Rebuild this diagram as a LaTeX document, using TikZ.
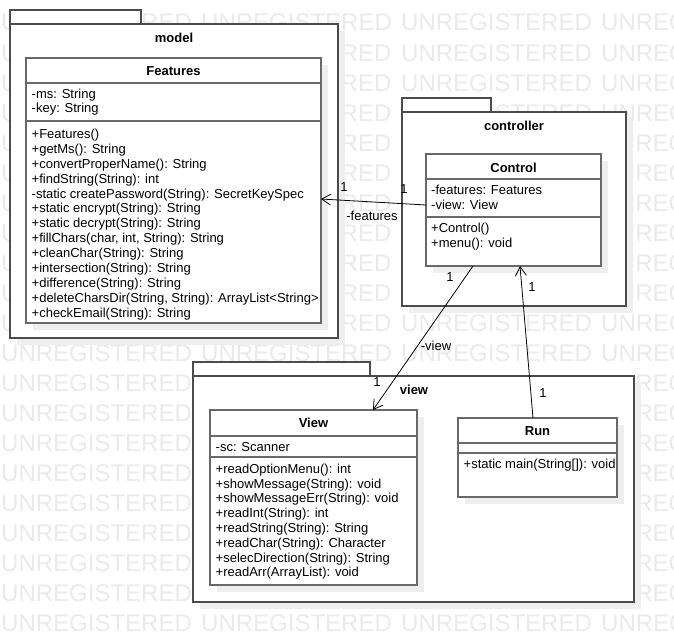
\documentclass[tikz,border=0pt]{standalone}
\usepackage{fontspec}
\setmainfont{Liberation Sans}
\usetikzlibrary{arrows.meta,calc}
\definecolor{wm}{RGB}{234,234,234}
\definecolor{shd}{RGB}{238,238,238}
\definecolor{clsline}{RGB}{105,105,105}
\definecolor{pkgline}{RGB}{75,75,75}
\tikzset{
  txt/.style={font=\fontsize{13}{15}\selectfont, inner sep=0pt, anchor=base west, text=black},
  hdr/.style={font=\fontsize{13}{15}\selectfont\bfseries, inner sep=0pt, anchor=base, text=black},
  wmtxt/.style={font=\fontsize{24}{24}\selectfont, inner sep=0pt, anchor=base west, text=wm},
  wmend/.style={font=\fontsize{24}{24}\selectfont, inner sep=0pt, anchor=base east, text=wm},
  pkg/.style={draw=pkgline, line width=1.3pt, fill=white, inner sep=0pt, outer sep=0pt, anchor=north west},
  cls/.style={draw=clsline, line width=1.5pt, fill=white, inner sep=0pt, outer sep=0pt, anchor=north west},
  sepline/.style={draw=clsline, line width=1.5pt},
  assoc/.style={draw=black, line width=0.8pt, -{Straight Barb[length=9pt,width=11pt]}},
  mult/.style={font=\fontsize{13}{15}\selectfont, inner sep=0pt, text=black},
}
\newcommand\linesat[5]{%
  \foreach \itm [count=\i] in {#5} {\node[txt] (#1-\i) at (#2, {#3+(\i-1)*#4}) {\itm};}}
\begin{document}
\begin{tikzpicture}[x=1pt,y=-1pt]
\useasboundingbox (0,0) rectangle (674,642);
\fill[white] (0,0) rectangle (674,642);
% watermark (only the parts that show)
\foreach \r in {0,11,20} {
  \foreach \c in {0,...,3} {
    \node[wmtxt] (wm-\r-\c) at ({1+200*\c}, {31+30*\r}) {UNREGISTERED};
  }
}
\foreach \r in {1,2,3,10} {
  \node[wmtxt] (wm-\r-0) at (1, {31+30*\r}) {U};
  \node[wmend] (wm-\r-1) at (391.6, {31+30*\r}) {RED};
  \node[wmtxt] (wm-\r-2) at (401, {31+30*\r}) {UNREGISTERED};
  \node[wmtxt] (wm-\r-3) at (601, {31+30*\r}) {UNREGISTERED};
}
\foreach \r in {4,...,9} {
  \node[wmtxt] (wm-\r-0) at (1, {31+30*\r}) {U};
  \node[wmend] (wm-\r-1) at (391.6, {31+30*\r}) {RED};
  \node[wmend] (wm-\r-3) at (791.6, {31+30*\r}) {NREGISTERED};
}
\foreach \r in {12,...,19} {
  \node[wmtxt] (wm-\r-0) at (1, {31+30*\r}) {UNREGISTERED};
  \node[wmend] (wm-\r-3) at (791.6, {31+30*\r}) {REGISTERED};
}
% package shadows
\fill[shd] (17,31) rectangle (345,345);
\fill[shd] (409,119) rectangle (633,313);
\fill[shd] (200,383) rectangle (641,609);
% packages
\node[pkg, minimum width=131pt, minimum height=14pt] (model-tab) at (10,10) {};
\node[pkg, minimum width=328pt, minimum height=314pt] (model) at (10,24) {};
\node[hdr] (model-name) at (174,42) {model};
\node[pkg, minimum width=89pt, minimum height=14pt] (ctrl-tab) at (402,98) {};
\node[pkg, minimum width=224pt, minimum height=194pt] (ctrlpkg) at (402,112) {};
\node[hdr] (ctrl-name) at (514,130) {controller};
\node[pkg, minimum width=177pt, minimum height=14pt] (view-tab) at (193,362) {};
\node[pkg, minimum width=441pt, minimum height=226pt] (viewpkg) at (193,376) {};
\node[hdr] (view-name) at (414,394) {view};
% class shadows
\fill[shd] (33,65) rectangle (328,330);
\fill[shd] (433,161) rectangle (608,273);
\fill[shd] (217,417) rectangle (424,592);
\fill[shd] (465,425) rectangle (624,504);
% Features
\node[cls, minimum width=295pt, minimum height=265pt] (features) at (26,58) {};
\node[hdr] (features-title) at (173.5,75) {Features};
\draw[sepline] (26,83) -- (321,83);
\draw[sepline] (26,121) -- (321,121);
\linesat{fa}{31.5}{98.6}{14.2}{-ms: String, -key: String}
\linesat{fm}{31.5}{138.6}{14.87}{+Features(), +getMs(): String, +convertProperName(): String, +findString(String): int, -static createPassword(String): SecretKeySpec, +static encrypt(String): String, +static decrypt(String): String, {+fillChars(char, int, String): String}, +cleanChar(String): String, +intersection(String): String, +difference(String): String, {+deleteCharsDir(String, String): ArrayList<String>}, +checkEmail(String): String}
% Control
\node[cls, minimum width=175pt, minimum height=112pt] (control) at (426,154) {};
\node[hdr] (control-title) at (513.5,172) {Control};
\draw[sepline] (426,179) -- (601,179);
\draw[sepline] (426,217) -- (601,217);
\linesat{ca}{431}{194.3}{15}{-features: Features, -view: View}
\linesat{cm}{431}{232}{15}{+Control(), +menu(): void}
% View
\node[cls, minimum width=207pt, minimum height=175pt] (viewcls) at (210,410) {};
\node[hdr] (view-title) at (313.5,427) {View};
\draw[sepline] (210,436) -- (417,436);
\draw[sepline] (210,457) -- (417,457);
\linesat{va}{215.5}{451}{15}{-sc: Scanner}
\linesat{vm}{215.5}{473.3}{14.8}{+readOptionMenu(): int, +showMessage(String): void, +showMessageErr(String): void, +readInt(String): int, +readString(String): String, +readChar(String): Character, +selecDirection(String): String, +readArr(ArrayList): void}
% Run
\node[cls, minimum width=159pt, minimum height=79pt] (run) at (458,418) {};
\node[hdr] (run-title) at (537.5,435) {Run};
\draw[sepline] (458,443) -- (617,443);
\draw[sepline] (458,453) -- (617,453);
\linesat{rm}{463.5}{468.6}{15}{+static main(String[]): void}
% connectors
\draw[assoc] ($(control.north west)+(0,51)$) -- ($(features.north east)+(0,141)$);
\draw[assoc] ($(control.south west)+(47,0)$) -- ($(viewcls.north west)+(163,0)$);
\draw[assoc] ($(run.north west)+(75,0)$) -- ($(control.south west)+(94,0)$);
% labels
\node[mult] (m1) at (344,187) {1};
\node[mult] (m2) at (404,189) {1};
\node[mult] (r1) at (372,216) {-features};
\node[mult] (m3) at (450,277) {1};
\node[mult] (r2) at (436,346) {-view};
\node[mult] (m4) at (377,382) {1};
\node[mult] (m5) at (532,287) {1};
\node[mult] (m6) at (543,393) {1};
\end{tikzpicture}
\end{document}
